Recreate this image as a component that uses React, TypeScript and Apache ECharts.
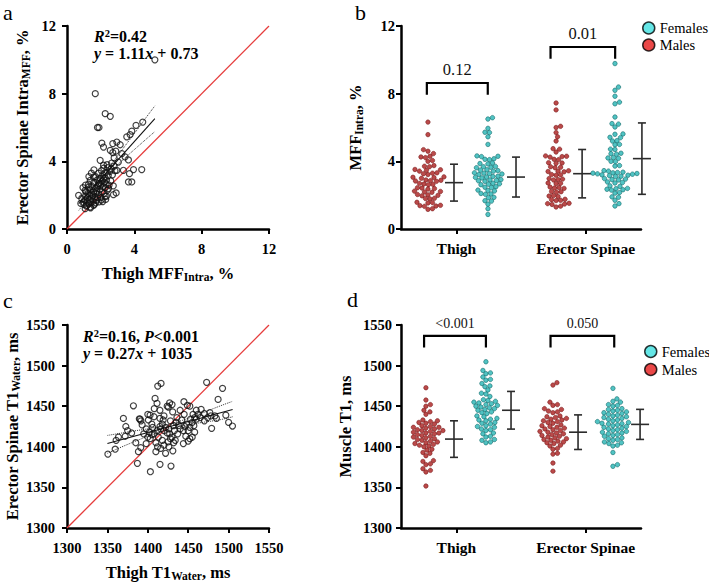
import React, { useEffect, useRef } from 'react';
import * as echarts from 'echarts';

const SERIF = '"Liberation Serif", "Times New Roman", serif';

// ---------- Panel a: Thigh MFF intra vs Erector Spinae MFF intra ----------
const aPoints: number[][] = [
  [1.68, 8.0], [2.27, 6.82], [2.57, 6.66], [1.81, 6.0], [1.9, 6.0], [4.5, 6.32], [4.1, 6.13],
  [3.85, 5.79], [3.75, 5.58], [3.55, 5.45], [5.22, 10.0], [2.96, 5.14], [3.16, 4.98], [2.72, 5.05],
  [2.07, 5.08], [2.17, 4.84], [2.57, 4.65], [2.72, 4.52], [3.26, 4.46], [3.45, 4.26], [3.65, 4.08],
  [3.05, 3.96], [1.97, 4.06], [2.17, 3.77], [2.42, 3.62], [2.62, 3.55], [2.8, 3.72], [2.96, 3.47],
  [3.35, 3.47], [3.71, 3.27], [3.95, 3.51], [4.44, 3.51], [3.65, 2.78], [3.85, 2.78], [2.92, 2.13],
  [2.76, 2.03], [2.27, 1.93], [1.87, 2.68], [1.78, 2.48], [2.47, 2.39], [2.17, 2.98], [1.58, 3.07],
  [1.38, 2.88], [1.28, 2.48], [1.08, 2.29], [0.69, 1.99], [0.88, 1.79], [0.98, 1.59], [1.18, 1.4],
  [1.38, 1.3], [1.58, 1.4], [0.82, 1.51], [1.08, 1.2], [2.05, 1.72], [2.12, 1.62], [2.35, 1.95],
  [1.0, 1.45], [1.05, 1.7], [1.1, 1.95], [1.12, 2.2], [1.15, 1.35], [1.2, 1.6], [1.22, 1.85],
  [1.25, 2.1], [1.28, 2.65], [1.3, 1.5], [1.32, 1.75], [1.35, 2.0], [1.38, 2.3], [1.4, 1.25],
  [1.42, 1.55], [1.45, 1.8], [1.48, 2.05], [1.5, 2.5], [1.52, 1.95], [1.55, 1.65], [1.58, 2.2],
  [1.6, 2.75], [1.62, 1.45], [1.65, 1.9], [1.68, 2.4], [1.7, 3.1], [1.72, 2.1], [1.75, 1.7],
  [1.78, 2.25], [1.8, 2.9], [1.82, 1.85], [1.85, 2.55], [1.88, 3.3], [1.9, 2.05], [1.92, 2.7],
  [1.95, 2.35], [1.98, 3.0], [2.0, 1.85], [2.02, 2.6], [2.05, 3.45], [2.08, 2.2], [2.1, 2.85],
  [2.12, 3.2], [2.15, 2.5], [2.18, 3.6], [2.2, 2.1], [2.22, 2.75], [2.25, 3.05], [2.28, 2.45],
  [2.3, 3.35], [2.32, 2.65], [2.35, 2.9], [2.38, 3.8], [2.4, 2.3], [2.45, 3.15], [2.5, 2.6],
  [2.55, 3.4], [2.6, 2.85], [2.65, 3.9], [2.7, 3.2], [2.75, 2.55], [2.8, 4.2], [2.85, 3.45],
  [2.9, 4.6], [1.1, 2.6], [1.3, 3.1], [1.45, 3.3], [1.6, 3.5], [0.95, 2.45], [1.7, 1.55],
  [1.9, 1.6], [2.3, 1.75],
];
const aFitX = [0.7, 5.22];
const aFitY = [1.5, 6.52];
const aBandX = [0.7, 1.2, 1.7, 2.2, 2.7, 3.2, 3.7, 4.2, 4.7, 5.22];
const aBandUpper = [1.92, 2.36, 2.83, 3.34, 3.94, 4.58, 5.25, 5.91, 6.59, 7.28];
const aBandLower = [1.1, 1.76, 2.41, 3.0, 3.52, 3.98, 4.43, 4.87, 5.31, 5.76];
const aIdentity = [0, 12];

// ---------- Panel b: MFF intra by sex ----------
const bMaleThigh = [6.32, 5.58, 4.69, 4.6, 4.46, 4.26, 4.3, 4.22, 4.0, 4.05, 3.71, 3.75, 3.68,
  3.47, 3.5, 3.42, 3.52, 3.27, 3.3, 3.22, 3.32, 3.04, 3.06, 3.0, 3.08, 2.84, 2.86, 2.82, 2.88, 2.9,
  2.64, 2.66, 2.62, 2.7, 2.39, 2.42, 2.36, 2.44, 2.19, 2.22, 2.17, 2.24, 1.99, 2.02, 1.96, 2.04,
  1.8, 1.82, 1.78, 1.56, 1.58, 1.54, 1.36, 1.38, 1.34, 1.4, 1.16, 1.2];
const bFemaleThigh = [6.58, 6.5, 5.95, 5.7, 5.72, 5.45, 5.0, 4.3, 4.28, 4.32, 4.1, 4.12, 4.15,
  3.85, 3.87, 3.9, 3.65, 3.62, 3.68, 3.7, 3.45, 3.42, 3.48, 3.5, 3.27, 3.25, 3.3, 3.22, 3.32,
  3.07, 3.05, 3.1, 3.02, 3.12, 2.87, 2.85, 2.9, 2.82, 2.92, 2.67, 2.65, 2.7, 2.62, 2.47, 2.45, 2.5,
  2.27, 2.25, 2.3, 2.07, 2.05, 2.1, 1.87, 1.85, 1.67, 1.65, 1.47, 1.2, 0.86];
const bMaleES = [7.45, 7.04, 6.07, 6.0, 5.7, 5.45, 5.2, 4.75, 4.72, 4.55, 4.3, 4.28, 4.32, 4.25,
  4.1, 4.12, 3.9, 3.88, 3.92, 3.65, 3.62, 3.68, 3.4, 3.38, 3.42, 3.44, 3.2, 3.18, 3.22,
  2.95, 2.92, 2.98, 2.9, 2.7, 2.68, 2.72, 2.45, 2.42, 2.48, 2.4, 2.2, 2.18, 2.22,
  1.95, 1.92, 1.98, 1.73, 1.7, 1.76, 1.68, 1.5, 1.48, 1.52, 1.45, 1.35, 1.3];
const bFemaleES = [9.78, 8.39, 8.2, 7.85, 7.5, 7.4, 6.62, 6.23, 6.2, 6.03, 5.6, 5.62, 5.4, 5.42,
  5.2, 5.22, 5.0, 4.98, 4.7, 4.72, 4.45, 4.42, 4.48, 4.2, 4.22, 4.18, 4.0, 3.98, 3.75, 3.72,
  3.45, 3.42, 3.3, 3.28, 3.32, 3.26, 3.34, 3.24, 3.36, 3.15, 3.12, 3.18, 3.1, 3.2,
  2.95, 2.92, 2.98, 2.9, 2.75, 2.72, 2.78, 2.55, 2.52, 2.35, 2.32, 2.38, 2.3, 2.4,
  2.15, 2.12, 1.9, 1.88, 1.7, 1.5, 1.36];
const bMeans = [2.74, 3.07, 3.27, 4.16];
const bSDs = [1.09, 1.18, 1.43, 2.11];
const bPValues = ['0.12', '0.01'];
const bBracketTop = [8.63, 10.76];
const bBracketBottom = [7.94, 10.07];

// ---------- Panel c: Thigh T1 water vs Erector Spinae T1 water ----------
const cPoints: number[][] = [
  [1350.6, 1391], [1360.8, 1408], [1359.6, 1397], [1363.7, 1412], [1369.8, 1435], [1382.2, 1450.5],
  [1372.8, 1425], [1389.5, 1434.5], [1390.5, 1434], [1391.5, 1432], [1385.1, 1405], [1388.4, 1394],
  [1391.3, 1399], [1387.1, 1379.6], [1403.2, 1369.3], [1415.1, 1378.4], [1428.7, 1376.3],
  [1412.3, 1474.8], [1416.4, 1478.1], [1409, 1459.6], [1411.4, 1453.5], [1408, 1447], [1402.8, 1439],
  [1407.7, 1437], [1400.7, 1433], [1415, 1435], [1419, 1433], [1424, 1450], [1427, 1454], [1430, 1452],
  [1425.5, 1449], [1430.8, 1443], [1444.7, 1455.5], [1449, 1451], [1452, 1450], [1472.8, 1479.4],
  [1492.5, 1472], [1487, 1458.4], [1504.8, 1425.6], [1496.6, 1439], [1479, 1422.7], [1478, 1438],
  [1483, 1438], [1476.8, 1442], [1460, 1434], [1465, 1436], [1470, 1432], [1456, 1440], [1460, 1445],
  [1448, 1428], [1452, 1424], [1455, 1430], [1450, 1420], [1446, 1425], [1450, 1407], [1455, 1412],
  [1452, 1410], [1437, 1416], [1440, 1422], [1432, 1405], [1430, 1412], [1434, 1408], [1425, 1406],
  [1427, 1416], [1428, 1410], [1420, 1420], [1424, 1417], [1416, 1422], [1412, 1420], [1406, 1424],
  [1402, 1418], [1398, 1422], [1410, 1405], [1412, 1400], [1418, 1408], [1420, 1402], [1422, 1392],
  [1410, 1394], [1405, 1415], [1400, 1412], [1395, 1416], [1415, 1425], [1418, 1428], [1422, 1424],
  [1426, 1422], [1435, 1430], [1438, 1426], [1442, 1433], [1444, 1420], [1447, 1413], [1458, 1436],
  [1462, 1440], [1466, 1446], [1440, 1445], [1445, 1440], [1433, 1420], [1405, 1428], [1413, 1412],
  [1398, 1404], [1400, 1440], [1393, 1427], [1380, 1417], [1372, 1413], [1375, 1420], [1470, 1441],
  [1474, 1436], [1453, 1434], [1457, 1426], [1432, 1426], [1428, 1432], [1436, 1436], [1415, 1445],
  [1420, 1438], [1408, 1416], [1403, 1410], [1416, 1398], [1426, 1400], [1431, 1395], [1444, 1404],
  [1458, 1418], [1485, 1435], [1500, 1430],
];
const cFitX = [1350, 1505];
const cFitY = [1404, 1446];
const cBandX = [1350, 1380, 1410, 1430, 1460, 1490, 1505];
const cBandUpper = [1414, 1419, 1424, 1428.7, 1438.8, 1450.5, 1456];
const cBandLower = [1392, 1405, 1416.5, 1422.7, 1428.8, 1433.5, 1437];
const cIdentity = [1300, 1550];

// ---------- Panel d: Muscle T1 by sex ----------
const dMaleThigh = [1472.7, 1457.6, 1452, 1450, 1445, 1443, 1440, 1432, 1431, 1433, 1429, 1428, 1430,
  1425, 1424, 1426, 1423, 1422, 1421, 1420, 1424, 1419, 1418, 1417, 1420, 1416, 1415, 1414, 1417,
  1412, 1411, 1413, 1410, 1409, 1408, 1407, 1406, 1405, 1404, 1403, 1401, 1400, 1402, 1397, 1396,
  1393, 1392, 1389, 1383, 1382, 1379, 1378, 1373, 1371, 1369, 1351.7];
const dFemaleThigh = [1504.7, 1494, 1490, 1491, 1486, 1482, 1483, 1478, 1474, 1475, 1470, 1466, 1465, 1462,
  1457, 1456, 1458, 1455, 1454, 1453, 1452, 1451, 1450, 1449, 1448, 1446, 1445, 1447, 1442, 1441, 1443,
  1438, 1437, 1434, 1433, 1435, 1432, 1429, 1428, 1430, 1425, 1424, 1426, 1421, 1420, 1422,
  1417, 1416, 1413, 1412, 1409, 1408, 1405, 1406];
const dMaleES = [1479, 1476, 1455, 1451, 1452, 1447, 1446, 1443, 1444, 1442, 1438, 1437, 1434, 1433, 1435,
  1432, 1436, 1431, 1430, 1429, 1426, 1425, 1427, 1424, 1422, 1421, 1423, 1418, 1417, 1419, 1416, 1420,
  1414, 1413, 1415, 1412, 1410, 1409, 1411, 1408, 1406, 1405, 1407, 1404, 1402, 1401, 1398, 1397,
  1392, 1391, 1380, 1370];
const dFemaleES = [1472, 1459, 1455, 1456, 1451, 1450, 1452, 1447, 1446, 1445, 1443, 1442, 1444, 1441,
  1440, 1439, 1438, 1437, 1434, 1433, 1435, 1432, 1436, 1431, 1430, 1429, 1428.5, 1428, 1426, 1425, 1427,
  1424, 1422, 1421, 1423, 1420, 1419, 1418, 1417, 1416, 1414, 1413, 1415, 1411, 1410, 1409, 1408,
  1406, 1405, 1404, 1402, 1401, 1393, 1378, 1376];
const dMeans = [1409.5, 1445, 1418, 1427.6];
const dSDs = [22.5, 23.2, 21.3, 18.5];
const dPValues = ['<0.001', '0.050'];
const dBracketTop = [1536.7, 1536.7];
const dBracketBottom = [1522.4, 1522.4];

const categories = ['Thigh', 'Erector Spinae'];
const legendNames = ['Females', 'Males'];

// ---------- layout ----------
const GA = { left: 67, top: 26, width: 202, height: 203 };
const GB = { left: 401, top: 26, width: 240, height: 203 };
const GC = { left: 67, top: 325, width: 202, height: 203 };
const GD = { left: 401, top: 325, width: 240, height: 203 };
const SLOTS = 13; // hidden x scale 0..13 across the dot-plot panels
const CAT_IDX = [3, 10];
const bSwarmX = [1.46, 4.71, 8.4, 11.59];
const bBarX = [2.87, 6.23, 9.81, 13.05];
const bBracketX = [[1.4, 4.7], [8.1, 11.6]];
const dSwarmX = [1.35, 4.6, 8.23, 11.48];
const dBarX = [2.87, 5.96, 9.59, 12.95];
const dBracketX = [[1.25, 4.6], [8.1, 11.55]];
const DOT = 4.5;
const DOT_GAP = 4.4;

const MALE = { color: '#a91d1d', borderColor: '#6a0a0a', borderWidth: 0.6 };
const FEMALE = { color: '#25b4b4', borderColor: '#0c6262', borderWidth: 0.7 };

function swarm(values: number[], center: number, pxX: number, pxY: number, d = DOT_GAP) {
  const order = values.map((_, i) => i).sort((i, j) => values[i] - values[j]);
  const placed: number[][] = [];
  const out: number[][] = new Array(values.length);
  for (const i of order) {
    const y = values[i] * pxY;
    let off = 0;
    for (let k = 0; k < 600; k++) {
      const c = k === 0 ? 0 : (k % 2 ? 1 : -1) * Math.ceil(k / 2) * 0.5;
      let ok = true;
      for (const p of placed) {
        const dx = p[0] - c, dy = p[1] - y;
        if (dx * dx + dy * dy < d * d) { ok = false; break; }
      }
      if (ok) { off = c; break; }
    }
    placed.push([off, y]);
    out[i] = [center + off / pxX, values[i]];
  }
  return out;
}

const axisLine = { show: true, onZero: false, lineStyle: { color: '#000', width: 2.5 } };
const axisTick = { show: true, inside: false, length: 5, lineStyle: { color: '#000', width: 2 } };
const tickLabel = (margin: number) => ({
  fontFamily: SERIF, fontWeight: 'bold', fontSize: 14.5, color: '#000', margin,
  formatter: (v: number) => String(v),
});
const nameRich = {
  n: { fontFamily: SERIF, fontWeight: 'bold', fontSize: 16.5, color: '#000', lineHeight: 20, verticalAlign: 'middle' },
  s: { fontFamily: SERIF, fontWeight: 'bold', fontSize: 11.5, color: '#000', lineHeight: 10, verticalAlign: 'bottom' },
};
const nameStyle = { fontFamily: SERIF, fontWeight: 'bold', fontSize: 16.5, color: '#000', lineHeight: 20, rich: nameRich };

function catData() {
  return Array.from({ length: SLOTS + 1 }, (_, i) => {
    const k = CAT_IDX.indexOf(i);
    return k >= 0 ? categories[k] : `slot${i}`;
  });
}

function catAxis(gridIndex: number) {
  const show = (i: number) => CAT_IDX.includes(i);
  return {
    type: 'category', gridIndex, data: catData(), boundaryGap: false,
    axisLine, axisTick: { ...axisTick, interval: show, alignWithLabel: true },
    axisLabel: { interval: show, fontFamily: SERIF, fontWeight: 'bold', fontSize: 15.5, color: '#000', margin: 11 },
    splitLine: { show: false },
  };
}

function hiddenX(gridIndex: number) {
  return { type: 'value', gridIndex, min: 0, max: SLOTS, show: false, splitLine: { show: false } };
}

function errorSeries(xi: number, yi: number, xs: number[], means: number[], sds: number[]) {
  return {
    type: 'custom', xAxisIndex: xi, yAxisIndex: yi, silent: true, z: 3,
    data: means.map((m, i) => [xs[i], m, sds[i]]),
    renderItem: (_p: any, api: any) => {
      const x = api.value(0), m = api.value(1), s = api.value(2);
      const pm = api.coord([x, m]);
      const pt = api.coord([x, m + s]);
      const pb = api.coord([x, m - s]);
      const st = { stroke: '#2b2b2b', lineWidth: 1.6 };
      return {
        type: 'group', children: [
          { type: 'line', shape: { x1: pm[0], y1: pt[1], x2: pm[0], y2: pb[1] }, style: st },
          { type: 'line', shape: { x1: pm[0] - 4, y1: pt[1], x2: pm[0] + 4, y2: pt[1] }, style: st },
          { type: 'line', shape: { x1: pm[0] - 4, y1: pb[1], x2: pm[0] + 4, y2: pb[1] }, style: st },
          { type: 'line', shape: { x1: pm[0] - 9, y1: pm[1], x2: pm[0] + 9, y2: pm[1] }, style: st },
        ],
      };
    },
  };
}

function bracketSeries(xi: number, yi: number, xs: number[][], tops: number[], bottoms: number[], labels: string[], fontSize: number) {
  return {
    type: 'custom', xAxisIndex: xi, yAxisIndex: yi, silent: true, z: 4, clip: false,
    data: xs.map((x, i) => [x[0], tops[i], x[1], bottoms[i], i]),
    renderItem: (_p: any, api: any) => {
      const x1 = api.value(0), yt = api.value(1), x2 = api.value(2), yb = api.value(3), idx = api.value(4);
      const a = api.coord([x1, yb]), b = api.coord([x1, yt]), c = api.coord([x2, yt]), d = api.coord([x2, yb]);
      return {
        type: 'group', children: [
          { type: 'polyline', shape: { points: [a, b, c, d] }, style: { stroke: '#000', lineWidth: 2.2, fill: null } },
          {
            type: 'text', x: (b[0] + c[0]) / 2, y: b[1] - 5,
            style: { text: labels[idx], fontFamily: SERIF, fontSize, fill: '#111', align: 'center', verticalAlign: 'bottom' },
          },
        ],
      };
    },
  };
}

function dotSeries(name: string, xi: number, yi: number, pts: number[][], style: any) {
  return {
    type: 'scatter', name, xAxisIndex: xi, yAxisIndex: yi, data: pts, symbol: 'circle', symbolSize: DOT,
    itemStyle: style, z: 5,
  };
}

function lineSeries(xi: number, yi: number, xs: number[], ys: number[], color: string, width: number, type: string, smooth = false) {
  return {
    type: 'line', xAxisIndex: xi, yAxisIndex: yi, data: xs.map((x, i) => [x, ys[i]]), showSymbol: false, symbol: 'none',
    smooth, silent: true, lineStyle: { color, width, type }, z: 2,
  };
}

const legendData = [
  { name: legendNames[0], icon: 'circle', itemStyle: { color: '#3fe0e0', borderColor: '#000', borderWidth: 1.5 } },
  { name: legendNames[1], icon: 'circle', itemStyle: { color: '#e51a1a', borderColor: '#000', borderWidth: 1.5 } },
];

function buildOption() {
  const bpxX = GB.width / SLOTS, bpxY = GB.height / 12;
  const dpxX = GD.width / SLOTS, dpxY = GD.height / 250;
  const hollow = { color: 'rgba(0,0,0,0)', borderColor: '#111', borderWidth: 1.2 };
  const annRich = {
    i: { fontFamily: SERIF, fontWeight: 'bold', fontStyle: 'italic', fontSize: 16, lineHeight: 17, fill: '#000' },
    b: { fontFamily: SERIF, fontWeight: 'bold', fontSize: 16, lineHeight: 17, fill: '#000' },
    sup: { fontFamily: SERIF, fontWeight: 'bold', fontSize: 10.5, lineHeight: 10, verticalAlign: 'top', fill: '#000' },
  };
  return {
    animation: false,
    backgroundColor: '#fff',
    grid: [GA, GB, GC, GD].map((g) => ({ ...g, containLabel: false })),
    legend: [
      { left: 642, top: 20, orient: 'vertical', padding: 0, itemWidth: 12, itemHeight: 12, itemGap: 1, selectedMode: false,
        data: legendData, textStyle: { fontFamily: SERIF, fontSize: 14.5, color: '#000', lineHeight: 16 } },
      { left: 644, top: 343.5, orient: 'vertical', padding: 0, itemWidth: 12, itemHeight: 12, itemGap: 2, selectedMode: false,
        data: legendData, textStyle: { fontFamily: SERIF, fontSize: 14.5, color: '#000', lineHeight: 16 } },
    ],
    xAxis: [
      { type: 'value', gridIndex: 0, min: 0, max: 12, interval: 4, axisLine, axisTick, axisLabel: tickLabel(12), splitLine: { show: false },
        name: '{n|Thigh MFF}{s|Intra}{n|, %}', nameLocation: 'middle', nameGap: 34, nameTextStyle: nameStyle },
      catAxis(1),
      hiddenX(1),
      { type: 'value', gridIndex: 2, min: 1300, max: 1550, interval: 50, axisLine, axisTick, axisLabel: tickLabel(12), splitLine: { show: false },
        name: '{n|Thigh T1}{s|Water}{n|, ms}', nameLocation: 'middle', nameGap: 34, nameTextStyle: nameStyle },
      catAxis(3),
      hiddenX(3),
    ],
    yAxis: [
      { type: 'value', gridIndex: 0, min: 0, max: 12, interval: 4, axisLine, axisTick, axisLabel: tickLabel(11), splitLine: { show: false },
        name: '{n|Erector Spinae Intra}{s|MFF}{n|, %}', nameLocation: 'middle', nameGap: 35, nameTextStyle: nameStyle },
      { type: 'value', gridIndex: 1, min: 0, max: 12, interval: 4, axisLine, axisTick, axisLabel: tickLabel(6), splitLine: { show: false },
        name: '{n|MFF}{s|Intra}{n|, %}', nameLocation: 'middle', nameGap: 36, nameTextStyle: nameStyle },
      { type: 'value', gridIndex: 2, min: 1300, max: 1550, interval: 50, axisLine, axisTick, axisLabel: tickLabel(12), splitLine: { show: false },
        name: '{n|Erector Spinae T1}{s|Water}{n|, ms}', nameLocation: 'middle', nameGap: 44, nameTextStyle: nameStyle },
      { type: 'value', gridIndex: 3, min: 1300, max: 1550, interval: 50, axisLine, axisTick, axisLabel: tickLabel(9), splitLine: { show: false },
        name: '{n|Muscle T1, ms}', nameLocation: 'middle', nameGap: 46, nameTextStyle: nameStyle },
    ],
    series: [
      // panel a
      lineSeries(0, 0, aIdentity, aIdentity, '#e63c3c', 1.3, 'solid'),
      lineSeries(0, 0, aFitX, aFitY, '#111', 1.1, 'solid'),
      lineSeries(0, 0, aBandX, aBandUpper, '#333', 1, 'dotted', true),
      lineSeries(0, 0, aBandX, aBandLower, '#333', 1, 'dotted', true),
      { type: 'scatter', xAxisIndex: 0, yAxisIndex: 0, data: aPoints, symbol: 'circle', symbolSize: 6, itemStyle: hollow, z: 3 },
      // panel b
      dotSeries(legendNames[1], 2, 1, swarm(bMaleThigh, bSwarmX[0], bpxX, bpxY), MALE),
      dotSeries(legendNames[0], 2, 1, swarm(bFemaleThigh, bSwarmX[1], bpxX, bpxY), FEMALE),
      dotSeries(legendNames[1], 2, 1, swarm(bMaleES, bSwarmX[2], bpxX, bpxY), MALE),
      dotSeries(legendNames[0], 2, 1, swarm(bFemaleES, bSwarmX[3], bpxX, bpxY), FEMALE),
      errorSeries(2, 1, bBarX, bMeans, bSDs),
      bracketSeries(2, 1, bBracketX, bBracketTop, bBracketBottom, bPValues, 16.5),
      // panel c
      lineSeries(3, 2, cIdentity, cIdentity, '#e63c3c', 1.3, 'solid'),
      lineSeries(3, 2, cFitX, cFitY, '#111', 1.1, 'solid'),
      lineSeries(3, 2, cBandX, cBandUpper, '#333', 1, 'dotted', true),
      lineSeries(3, 2, cBandX, cBandLower, '#333', 1, 'dotted', true),
      { type: 'scatter', xAxisIndex: 3, yAxisIndex: 2, data: cPoints, symbol: 'circle', symbolSize: 6, itemStyle: hollow, z: 3 },
      // panel d
      dotSeries(legendNames[1], 5, 3, swarm(dMaleThigh, dSwarmX[0], dpxX, dpxY), MALE),
      dotSeries(legendNames[0], 5, 3, swarm(dFemaleThigh, dSwarmX[1], dpxX, dpxY), FEMALE),
      dotSeries(legendNames[1], 5, 3, swarm(dMaleES, dSwarmX[2], dpxX, dpxY), MALE),
      dotSeries(legendNames[0], 5, 3, swarm(dFemaleES, dSwarmX[3], dpxX, dpxY), FEMALE),
      errorSeries(5, 3, dBarX, dMeans, dSDs),
      bracketSeries(5, 3, dBracketX, dBracketTop, dBracketBottom, dPValues, 14),
    ],
    graphic: [
      { type: 'text', left: 3, top: 1, style: { text: 'a', fontFamily: SERIF, fontSize: 22, fill: '#000' } },
      { type: 'text', left: 355, top: 1, style: { text: 'b', fontFamily: SERIF, fontSize: 22, fill: '#000' } },
      { type: 'text', left: 3, top: 289, style: { text: 'c', fontFamily: SERIF, fontSize: 22, fill: '#000' } },
      { type: 'text', left: 347, top: 288, style: { text: 'd', fontFamily: SERIF, fontSize: 22, fill: '#000' } },
      { type: 'text', left: 94, top: 28, style: { text: '{i|R}{sup|2}{b|=0.42}', rich: annRich } },
      { type: 'text', left: 94, top: 45, style: { text: '{i|y}{b| = 1.11}{i|x}{b| + 0.73}', rich: annRich } },
      { type: 'text', left: 83, top: 328, style: { text: '{i|R}{sup|2}{b|=0.16, }{i|P}{b|<0.001}', rich: annRich } },
      { type: 'text', left: 83, top: 345, style: { text: '{i|y}{b| = 0.27}{i|x}{b| + 1035}', rich: annRich } },
    ],
  };
}

export default function App() {
  const ref = useRef<HTMLDivElement>(null);
  useEffect(() => {
    if (!ref.current) return;
    const chart = echarts.init(ref.current, undefined, { renderer: 'svg' });
    chart.setOption(buildOption() as any);
    return () => chart.dispose();
  }, []);
  return (
    <div style={{ position: 'fixed', left: 0, top: 0, width: 709, height: 583, background: '#fff' }}>
      <div ref={ref} style={{ width: 709, height: 583 }} />
    </div>
  );
}
